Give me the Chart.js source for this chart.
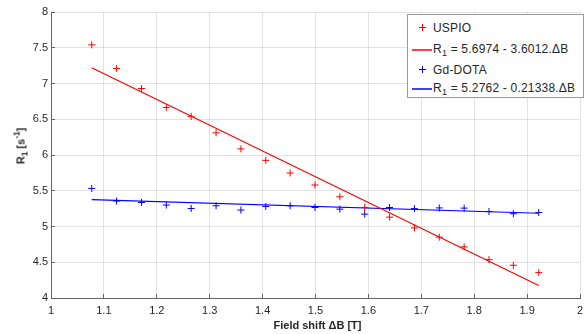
<!DOCTYPE html>
<html>
<head>
<meta charset="utf-8">
<script src="https://cdn.jsdelivr.net/npm/chart.js@4.4.0/dist/chart.umd.min.js"></script>
<style>
	body { margin: 0; background: #fff; }
	#wrap { position: relative; width: 585px; height: 334px; font-family: "Liberation Sans", Arial, sans-serif; color: #262626; }
	#chart { position: absolute; left: 0; top: 0; }
	.axisTitle { position: absolute; font-size: 11px; font-weight: bold; white-space: nowrap; line-height: 13px; }
	#xTitle { left: 0; width: 635px; top: 319px; text-align: center; }
	#yTitle { left: 21px; top: 146px; transform: translate(-50%, -50%) rotate(-90deg); }
	.axisTitle sub, .axisTitle sup, .graphLegendBox sub { font-size: 75%; line-height: 0; }
	.graphLegendBox { position: absolute; left: 407px; top: 14px; width: 175px; height: 82px; border: 1px solid #9a9a9a; background: #fff; font-size: 12px; }
	.graphLegendBox li { position: absolute; left: 0; height: 20px; line-height: 20px; list-style: none; white-space: nowrap; }
	.graphLegendBox ul { margin: 0; padding: 0; }
	.graphLegendBox .mark { position: absolute; top: 6px; width: 7px; height: 7px; left: 11px; }
	.graphLegendBox .line { position: absolute; top: 10px; width: 20px; height: 2px; left: 4px; opacity: 0.75; }
	.graphLegendBox .txt { position: absolute; left: 25px; top: 0; letter-spacing: 0.2px; }
</style>
</head>
<body>
<div id="wrap">
	<canvas id="chart" width="585" height="334"></canvas>
	<div class="axisTitle" id="xTitle">Field shift &Delta;B [T]</div>
	<div class="axisTitle" id="yTitle">R<sub>1</sub> [s<sup>-1</sup>]</div>
</div>
<script>
// measured field shift (T)
var fieldShift = [1.077, 1.124, 1.171, 1.218, 1.265, 1.312, 1.359, 1.406, 1.452, 1.499, 1.546, 1.593, 1.640, 1.687, 1.734, 1.781, 1.828, 1.874, 1.922];
// R1 values (1/s)
var uspioR1 = [7.54, 7.21, 6.93, 6.665, 6.54, 6.31, 6.085, 5.925, 5.748, 5.58, 5.416, 5.266, 5.131, 4.98, 4.851, 4.715, 4.537, 4.458, 4.355];
var gdDotaR1 = [5.532, 5.356, 5.336, 5.30, 5.252, 5.29, 5.23, 5.28, 5.29, 5.266, 5.243, 5.173, 5.266, 5.25, 5.26, 5.257, 5.21, 5.178, 5.196];
// fitted lines (end points)
var fitX = [1.077, 1.922];
var uspioFit = [7.22, 4.175];
var gdDotaFit = [5.375, 5.185];
// legend text
var seriesNames = ['USPIO', 'Gd-DOTA'];
var fitNames = ['R<sub>1</sub> = 5.6974 - 3.6012.&Delta;B', 'R<sub>1</sub> = 5.2762 - 0.21338.&Delta;B'];
// axis ticks
var xTicks = [1, 1.1, 1.2, 1.3, 1.4, 1.5, 1.6, 1.7, 1.8, 1.9, 2];
var yTicks = [4, 4.5, 5, 5.5, 6, 6.5, 7, 7.5, 8];

var red = '#ff0000';
var blue = '#0000ff';
var legendColors = [red, red, blue, blue];
var axisColor = '#666666';
var gridColor = 'rgba(38,38,38,0.13)';

var toPoints = function(xs, ys) {
	var pts = [];
	for (var i = 0; i < xs.length; i++) {
		pts.push({ x: xs[i], y: ys[i] });
	}
	return pts;
};

var markerSet = function(label, color, ys) {
	return {
		label: label,
		data: toPoints(fieldShift, ys),
		showLine: false,
		pointStyle: 'cross',
		pointRadius: 3.5,
		pointBorderWidth: 1,
		pointBorderColor: color,
		pointBackgroundColor: color,
		borderColor: color,
		backgroundColor: color
	};
};

var fitSet = function(label, color, ys) {
	return {
		label: label,
		data: toPoints(fitX, ys),
		showLine: true,
		pointRadius: 0,
		borderWidth: 1.2,
		borderColor: color,
		backgroundColor: color
	};
};

var fixTicks = function(values) {
	return function(scale) {
		scale.ticks = values.map(function(v) { return { value: v }; });
	};
};

var font = { family: '"Liberation Sans", Arial, sans-serif', size: 11 };

var chartSet = new Chart(document.getElementById('chart'), {
	type: 'scatter',
	data: {
		datasets: [
			markerSet(seriesNames[0], red, uspioR1),
			fitSet(fitNames[0], red, uspioFit),
			markerSet(seriesNames[1], blue, gdDotaR1),
			fitSet(fitNames[1], blue, gdDotaFit)
		]
	},
	options: {
		responsive: false,
		animation: false,
		devicePixelRatio: 1,
		layout: { padding: { top: 12, right: 1, left: 0, bottom: 0 } },
		plugins: {
			legend: { display: false },
			tooltip: { enabled: false }
		},
		scales: {
			x: {
				type: 'linear',
				min: 1,
				max: 2,
				afterBuildTicks: fixTicks(xTicks),
				afterFit: function(scale) { scale.height = 36; scale.paddingLeft = 0; scale.paddingRight = 0; },
				grid: { color: gridColor, tickColor: axisColor, tickLength: -4 },
				border: { color: axisColor, width: 1 },
				ticks: { color: '#262626', font: font, padding: 10, maxRotation: 0, autoSkip: false,
					callback: function(v) { return String(v); } }
			},
			y: {
				type: 'linear',
				min: 4,
				max: 8,
				afterBuildTicks: fixTicks(yTicks),
				afterFit: function(scale) { scale.width = 51; scale.paddingTop = 0; scale.paddingBottom = 0; },
				grid: { color: gridColor, tickColor: axisColor, tickLength: -4 },
				border: { color: axisColor, width: 1 },
				ticks: { color: '#262626', font: font, padding: 7, autoSkip: false,
					callback: function(v) { return String(v); } }
			}
		}
	}
});

// legend built from the chart datasets
var creatLegendFn = function() {
	var rowTops = [3, 24, 45, 63];
	var ds = chartSet.data.datasets;
	var html = '<div class="graphLegendBox"><ul>';
	for (var i = 0; i < ds.length; i++) {
		var c = legendColors[i];
		var icon;
		if (ds[i].showLine) {
			icon = '<span class="line" style="background-color:' + c + '"></span>';
		} else {
			icon = '<span class="mark" style="background:linear-gradient(' + c + ',' + c + ') center/7px 1px no-repeat, linear-gradient(' + c + ',' + c + ') center/1px 7px no-repeat"></span>';
		}
		html += '<li style="top:' + rowTops[i] + 'px">' + icon + '<span class="txt">' + ds[i].label + '</span></li>';
	}
	html += '</ul></div>';
	document.getElementById('wrap').insertAdjacentHTML('beforeend', html);
};
creatLegendFn();
</script>
</body>
</html>
